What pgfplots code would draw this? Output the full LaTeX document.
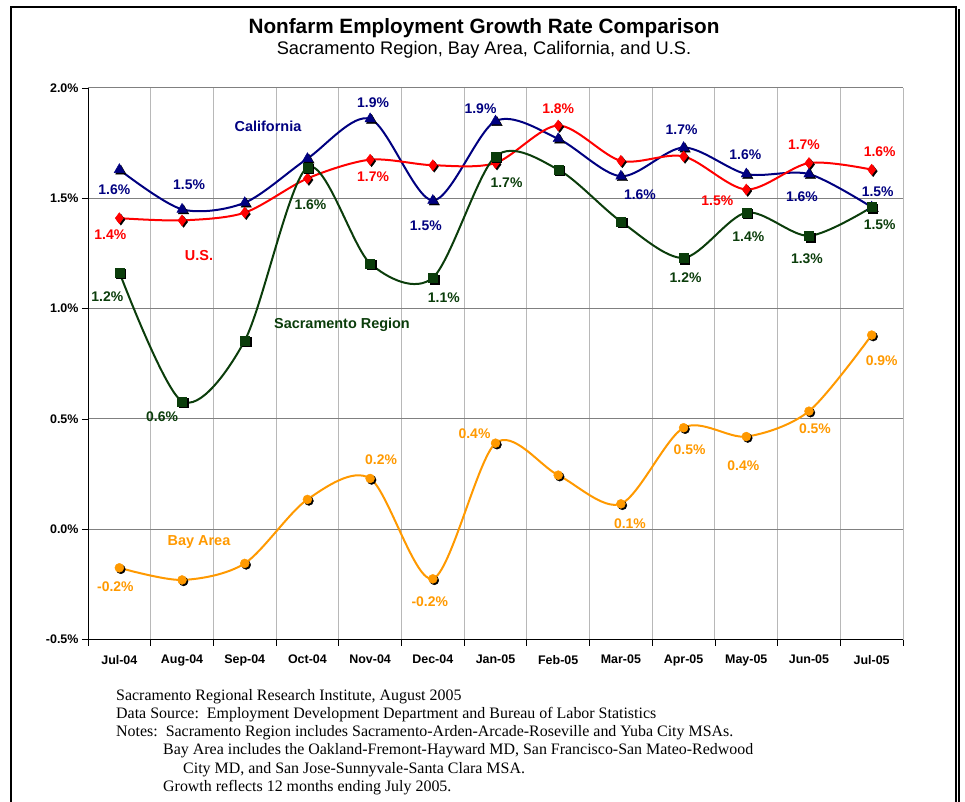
\documentclass[border=0pt]{standalone}
\usepackage{pgfplots}
\pgfplotsset{compat=1.18}
\usepackage{pgfplotstable}
\usepackage{fontspec}
\setmainfont{Liberation Serif}
\newfontfamily\arial{Liberation Sans}

\definecolor{calc}{HTML}{000080}
\definecolor{usc}{HTML}{FF0000}
\definecolor{sacc}{HTML}{0B3D0B}
\definecolor{bayc}{HTML}{FF9900}

% x = month index (0 = Jul-04), y = growth rate in %, lab = data label,
% dx, dy = label offset (bp, right / up)
\pgfplotstableread{
x y lab dx dy
0 1.63 {1.6\%} -5 -20
1 1.45 {1.5\%} 7 25
2 1.48 {} 0 0
3 1.68 {} 0 0
4 1.86 {1.9\%} 3 16
5 1.49 {1.5\%} -7 -25
6 1.85 {1.9\%} -15 12
7 1.77 {} 0 0
8 1.60 {1.6\%} 19 -18
9 1.73 {1.7\%} -2 18
10 1.61 {1.6\%} -1 19
11 1.61 {1.6\%} -7 -23
12 1.46 {1.5\%} 6 15
}\cal

\pgfplotstableread{
x y lab dx dy
0 1.41 {1.4\%} -9 -17
1 1.40 {} 0 0
2 1.435 {} 0 0
3 1.59 {} 0 0
4 1.675 {1.7\%} 3 -17
5 1.65 {} 0 0
6 1.66 {} 0 0
7 1.83 {1.8\%} 0 17
8 1.67 {} 0 0
9 1.69 {} 0 0
10 1.54 {1.5\%} -29 -11
11 1.66 {1.7\%} -5 18
12 1.63 {1.6\%} 8 18
}\us

\pgfplotstableread{
x y lab dx dy
0 1.165 {1.2\%} -12 -24
1 0.58 {0.6\%} -20 -15
2 0.855 {} 0 0
3 1.64 {1.6\%} 3 -37
4 1.205 {} 0 0
5 1.14 {1.1\%} 11 -20
6 1.69 {1.7\%} 11 -26
7 1.63 {} 0 0
8 1.395 {} 0 0
9 1.23 {1.2\%} 2 -20
10 1.435 {1.4\%} 2 -24
11 1.33 {1.3\%} -2 -23
12 1.46 {1.5\%} 8 -18
}\sac

\pgfplotstableread{
x y lab dx dy
0 -0.175 {-0.2\%} -4 -19
1 -0.23 {} 0 0
2 -0.155 {} 0 0
3 0.135 {} 0 0
4 0.23 {0.2\%} 11 19
5 -0.225 {-0.2\%} -3 -23
6 0.39 {0.4\%} -21 9
7 0.245 {} 0 0
8 0.115 {0.1\%} 9 -20
9 0.46 {0.5\%} 6 -22
10 0.42 {0.4\%} -3 -29
11 0.535 {0.5\%} 6 -18
12 0.88 {0.9\%} 10 -26
}\bay

\pgfplotsset{
  lbl/.style={
    point meta=explicit symbolic,
    nodes near coords={\pgfplotspointmeta},
    visualization depends on={\thisrow{dx}\as\labdx},
    visualization depends on={\thisrow{dy}\as\labdy},
    every node near coord/.append style={anchor=center, xshift=\labdx bp, yshift=\labdy bp,
      font=\arial\bfseries\fontsize{14}{16}\selectfont, text=#1},
  },
}

\begin{document}
\begin{tikzpicture}[x=1bp,y=1bp]
\useasboundingbox (0,0) rectangle (965,-802);
\coordinate (axnw) at (88,-88);
\draw[line width=2.5bp] (11,-7) rectangle (956,-850);
\draw[line width=2bp] (958.5,-9) -- (958.5,-850);
\node[anchor=base, font=\arial\bfseries\fontsize{20.8}{24}\selectfont] at (484,-34) {Nonfarm Employment Growth Rate Comparison};
\node[anchor=base, font=\arial\fontsize{18.3}{22}\selectfont] at (484,-55) {Sacramento Region, Bay Area, California, and U.S.};

\begin{axis}[
  at={(axnw)}, anchor=north west, scale only axis,
  width=815bp, height=551.5bp,
  xmin=-0.5, xmax=12.5, ymin=-0.5, ymax=2.0,
  axis x line*=bottom, axis y line*=left,
  axis line style={black, line width=1bp, -},
  xtick={0,...,12},
  xticklabels={Jul-04,Aug-04,Sep-04,Oct-04,Nov-04,Dec-04,Jan-05,Feb-05,Mar-05,Apr-05,May-05,Jun-05,Jul-05},
  minor xtick={-0.5,0.5,...,12.5},
  xminorgrids, minor x grid style={color=black!28, line width=1bp},
  ytick={-0.5,0,0.5,1,1.5,2},
  yticklabels={-0.5\%,0.0\%,0.5\%,1.0\%,1.5\%,2.0\%},
  ymajorgrids, major y grid style={color=black!50, line width=1bp},
  tick align=outside, major tick length=6bp, minor tick length=6bp,
  major x tick style={draw=none},
  tick style={black, line width=0.8bp},
  ticklabel style={font=\arial\bfseries\fontsize{12.5}{14}\selectfont},
  xticklabel style={yshift=-6bp},
  clip=false,
]
% California
\addplot[calc, line width=2bp, smooth, mark=none] table[x=x,y=y]{\cal};
\addplot[only marks, mark=triangle*, mark size=6bp, black, mark options={xshift=1.5bp,yshift=-1.5bp}] table[x=x,y=y]{\cal};
\addplot[only marks, mark=triangle*, mark size=6bp, calc, lbl=calc] table[x=x,y=y,meta=lab]{\cal};
% U.S.
\addplot[usc, line width=2bp, smooth, mark=none] table[x=x,y=y]{\us};
\addplot[only marks, mark=diamond*, mark size=5.5bp, black, mark options={xshift=1.5bp,yshift=-1.5bp}] table[x=x,y=y]{\us};
\addplot[only marks, mark=diamond*, mark size=5.5bp, usc, lbl=usc] table[x=x,y=y,meta=lab]{\us};
% Sacramento
\addplot[sacc, line width=2bp, smooth, mark=none] table[x=x,y=y]{\sac};
\addplot[only marks, mark=square*, mark size=4.5bp, black, mark options={xshift=1.5bp,yshift=-1.5bp}] table[x=x,y=y]{\sac};
\addplot[only marks, mark=square*, mark size=4.5bp, sacc, lbl=sacc] table[x=x,y=y,meta=lab]{\sac};
% Bay Area
\addplot[bayc, line width=2bp, smooth, mark=none] table[x=x,y=y]{\bay};
\addplot[only marks, mark=*, mark size=4.5bp, black, mark options={xshift=1.5bp,yshift=-1.5bp}] table[x=x,y=y]{\bay};
\addplot[only marks, mark=*, mark size=4.5bp, bayc, lbl=bayc] table[x=x,y=y,meta=lab]{\bay};
\end{axis}

\begin{scope}[every node/.style={font=\arial\bfseries\fontsize{14.5}{16}\selectfont}]
\node[text=calc] at (268,-126) {California};
\node[text=usc] at (199,-256) {U.S.};
\node[text=sacc] at (342,-325) {Sacramento Region};
\node[text=bayc] at (199,-542) {Bay Area};
\end{scope}

\begin{scope}[every node/.style={anchor=base west, inner sep=0pt, font=\fontsize{16}{18}\selectfont}]
\node at (116,-700) {Sacramento Regional Research Institute, August 2005};
\node at (116,-718.3) {Data Source:\ \ Employment Development Department and Bureau of Labor Statistics};
\node at (116,-736.6) {Notes:\ \ Sacramento Region includes Sacramento-Arden-Arcade-Roseville and Yuba City MSAs.};
\node at (163,-754.9) {Bay Area includes the Oakland-Fremont-Hayward MD, San Francisco-San Mateo-Redwood};
\node at (183,-773.2) {City MD, and San Jose-Sunnyvale-Santa Clara MSA.};
\node at (163,-791.5) {Growth reflects 12 months ending July 2005.};
\end{scope}
\end{tikzpicture}
\end{document}
